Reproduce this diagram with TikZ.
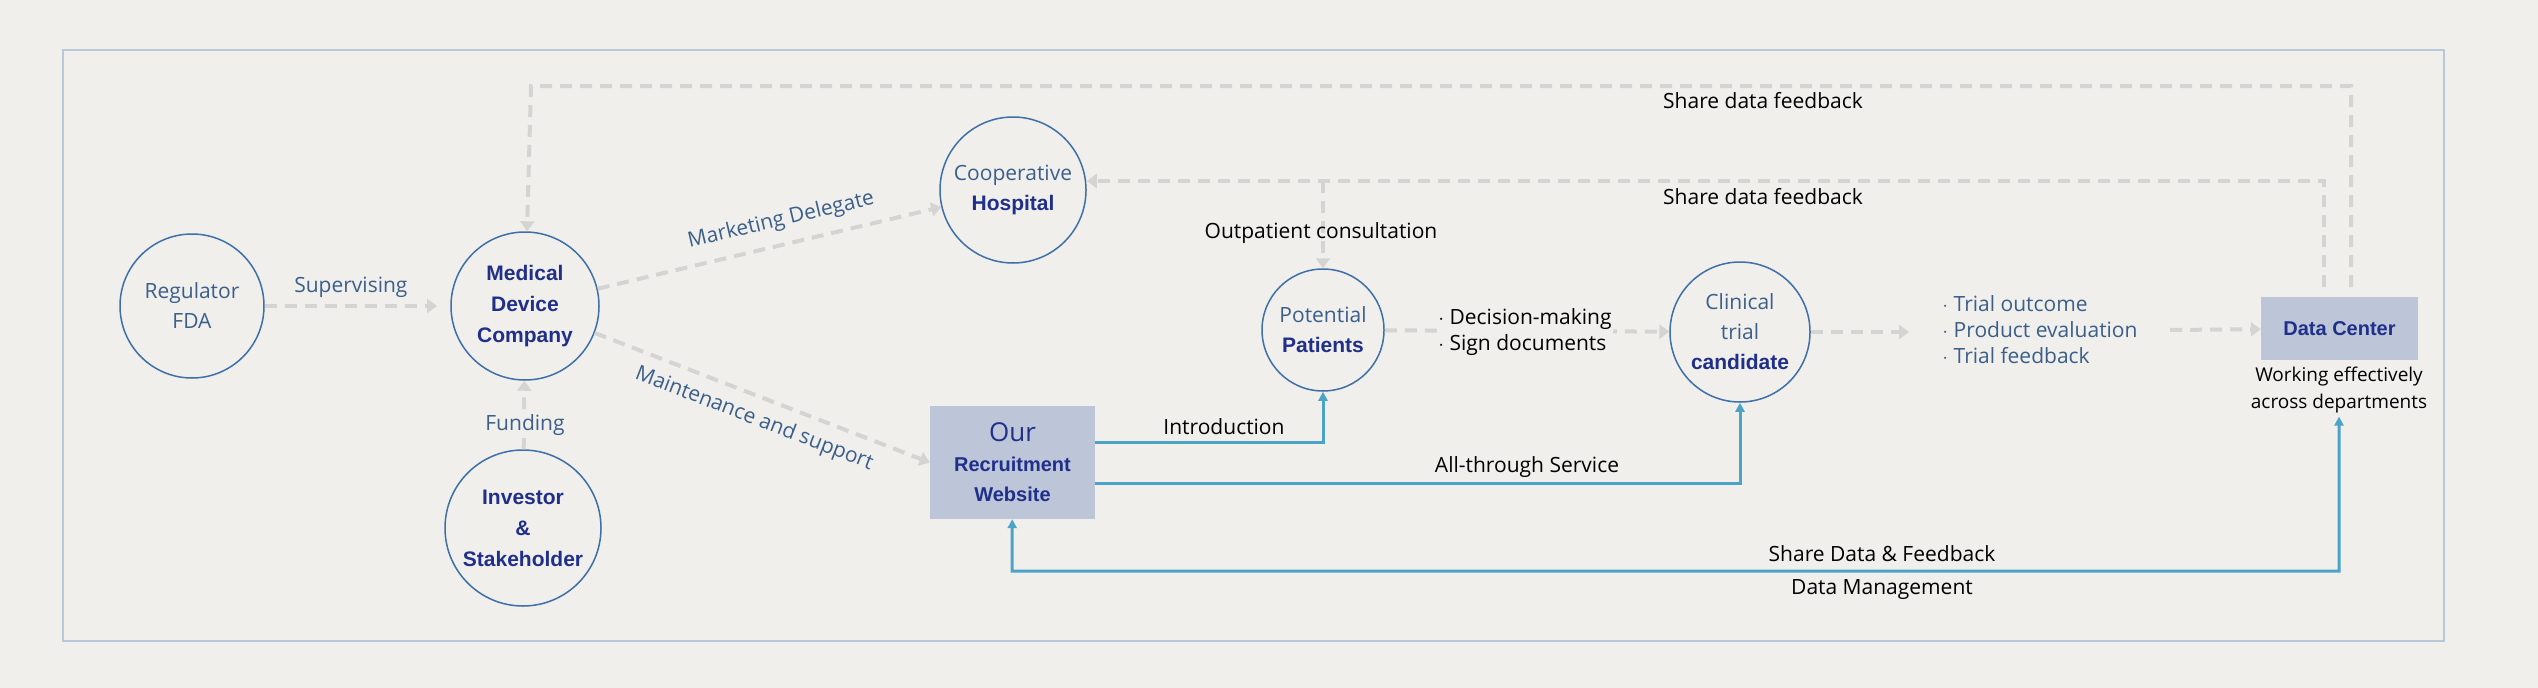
\documentclass[tikz,border=0pt]{standalone}
\usepackage{fontspec}
\setmainfont{Open Sans}
\newfontfamily\boldf{Liberation Sans}
\usetikzlibrary{arrows.meta}
\definecolor{bg}{HTML}{F0EFEC}
\definecolor{circ}{HTML}{3E6FA8}
\definecolor{dblue}{HTML}{1F2F8A}
\definecolor{lblue}{HTML}{3B5F8A}
\definecolor{boxf}{HTML}{BCC6D8}
\definecolor{lineb}{HTML}{4BA3C8}
\definecolor{dash}{HTML}{D4D4D2}
\definecolor{frame}{HTML}{B8C8D8}
\begin{document}
\begin{tikzpicture}[x=1pt,y=-1pt,
  circ/.style={circle,draw=circ,line width=1.5pt,minimum size=#1,inner sep=0pt,align=center,font=\fontsize{21}{30}\selectfont,text=lblue},
  bc/.style={font=\boldf\bfseries\fontsize{21}{31}\selectfont,text=dblue},
  box/.style={fill=boxf,draw=none,align=center,text=dblue},
  dsh/.style={draw=dash,line width=4pt,dash pattern=on 12pt off 8pt,-{Triangle[length=10pt,width=14pt]}},
  sol/.style={draw=lineb,line width=3pt,-{Triangle[length=9pt,width=9pt]}},
  lab/.style={font=\fontsize{21}{26}\selectfont,text=black},
  lbl/.style={font=\fontsize{21}{26}\selectfont,text=lblue}]
\fill[bg] (0,0) rectangle (2538,688);
\draw[frame,line width=1.5pt] (63,50) rectangle (2444,641);
\node[circ=144pt] (reg) at (192,306) {Regulator\\FDA};
\node[circ=148pt,bc] (med) at (525,306) {Medical\\Device\\Company};
\node[circ=156pt,bc] (inv) at (523,528) {Investor\\\&\\Stakeholder};
\node[circ=146pt] (hos) at (1013,190) {Cooperative\\{\boldf\bfseries\color{dblue}Hospital}};
\node[circ=122pt] (pat) at (1323,330) {Potential\\{\boldf\bfseries\color{dblue}Patients}};
\node[circ=140pt] (cli) at (1740,332) {Clinical\\trial\\{\boldf\bfseries\color{dblue}candidate}};
\node[box,minimum width=165pt,minimum height=113pt,font=\boldf\bfseries\fontsize{20}{30}\selectfont] (web) at (1012.5,462.5) {{\mdseries\fontspec{Open Sans}\fontsize{26}{30}\selectfont Our}\\Recruitment\\Website};
\node[box,minimum width=157pt,minimum height=63pt,font=\boldf\bfseries\fontsize{20}{24}\selectfont] (dc) at (2339.5,328.5) {Data Center};
\node[lab,align=center,font=\fontsize{19}{27}\selectfont] (work) at (2339,390) {Working effectively\\across departments};
% dashed arrows
\draw[dsh] (reg) -- (437,306) node[lbl,midway,above=3pt] {Supervising};
\draw[dsh] (inv) -- (med);
\node[lbl,fill=bg,inner sep=2pt] (fund) at (525,425) {Funding};
\draw[dsh] (med) -- (hos) node[lbl,pos=0.55,sloped,above=8pt] {Marketing Delegate};
\draw[dsh] (med) -- (web.west) node[lbl,pos=0.5,sloped,below=7pt] {Maintenance and support};
\coordinate (t1) at (2351,287); \coordinate (t2) at (2351,86); \coordinate (t3) at (531,86);
\draw[dsh] (t1) -- (t2) -- (t3) -- (med);
\coordinate (s1) at (2324,287); \coordinate (s2) at (2324,181);
\draw[dsh] (s1) -- (s2) -- (hos.east |- s2);
\coordinate (o1) at (1323,181);
\draw[dsh] (o1) -- (pat);
\node[lab] at (1763,101) {Share data feedback};
\node[lab] at (1763,197) {Share data feedback};
\node[lab] at (1321,233) {Outpatient consultation};
\draw[dsh] (pat) -- (cli);
\node[lab,align=left,fill=bg,inner sep=1pt] at (1525,332) {$\cdot$ Decision-making\\$\cdot$ Sign documents};
\coordinate (d1) at (1909,332);
\draw[dsh] (cli) -- (d1);
\node[lbl,align=left] (tri) at (2040,330) {$\cdot$ Trial outcome\\$\cdot$ Product evaluation\\$\cdot$ Trial feedback};
\coordinate (d2) at (2170,330);
\draw[dsh] (d2) -- (dc);
% solid
\draw[sol] (web.east |- 0,442) -- (1323,442) -- (pat);
\node[lab] at (1224,427) {Introduction};
\draw[sol] (web.east |- 0,483) -- (1740,483) -- (cli);
\node[lab] at (1527,467) {All-through Service};
\coordinate (b1) at (1012,571); \coordinate (b2) at (2339,571);
\draw[sol,{Triangle[length=9pt,width=9pt]}-{Triangle[length=9pt,width=9pt]}] (work.south) -- (b2) -- (b1) -- (web);
\node[lab] at (1882,554) {Share Data \& Feedback};
\node[lab] at (1882,590) {Data Management};
\end{tikzpicture}
\end{document}
